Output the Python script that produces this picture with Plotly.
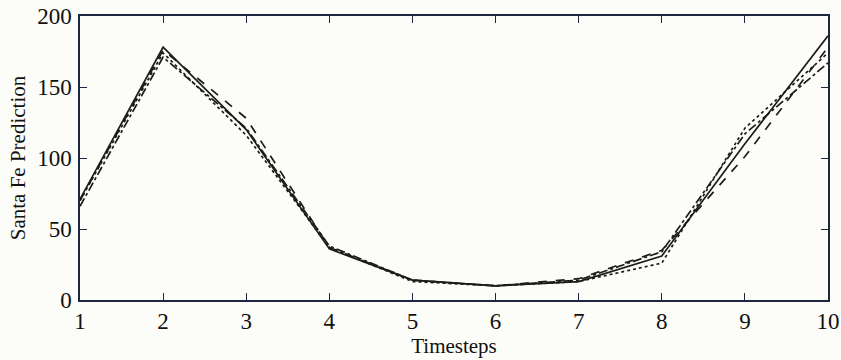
import plotly.graph_objects as go

# Santa Fe series: predictions over ten timesteps from four models
timesteps = [1, 2, 3, 4, 5, 6, 7, 8, 9, 10]
pred_solid = [71, 178, 120, 36, 14, 10, 13, 31, 110, 186]
pred_dashed = [70, 176, 128, 37, 14, 10, 15, 35, 101, 178]
pred_dotted = [70, 174, 116, 37, 13, 10, 13, 26, 121, 174]
pred_dashdot = [66, 171, 121, 38, 14, 10, 14, 34, 117, 167]

ink = "#1c1c1c"
axis_ink = "#1f2740"
font_family = "Liberation Serif, Times New Roman, serif"

fig = go.Figure()
for ys, dash in [(pred_solid, "solid"), (pred_dashed, "dash"),
                 (pred_dotted, "dot"), (pred_dashdot, "dashdot")]:
    fig.add_trace(go.Scatter(
        x=timesteps, y=ys, mode="lines",
        line=dict(color=ink, width=1.7, dash=dash),
        showlegend=False,
    ))

axis_common = dict(
    showgrid=False, zeroline=False, automargin=False,
    showline=True, linecolor=axis_ink, linewidth=1.5,
    mirror="ticks", ticks="inside", ticklen=7, tickwidth=1.3,
    tickcolor=axis_ink,
    tickfont=dict(family=font_family, size=23, color="#111"),
)

fig.update_layout(
    width=841, height=360,
    margin=dict(l=80, r=13, t=16, b=60),
    paper_bgcolor="#fcfcf8", plot_bgcolor="#fcfcf8",
    font=dict(family=font_family, color="#111"),
    xaxis=dict(
        range=[1, 10], tickvals=timesteps, ticklabelstandoff=0,
        title=dict(text="Timesteps", font=dict(family=font_family, size=21), standoff=0),
        **axis_common,
    ),
    yaxis=dict(
        range=[0, 200], tickvals=[0, 50, 100, 150, 200], ticklabelstandoff=2,
        title=dict(text="Santa Fe Prediction", font=dict(family=font_family, size=21), standoff=6),
        **axis_common,
    ),
)

fig.write_html("out.html")
